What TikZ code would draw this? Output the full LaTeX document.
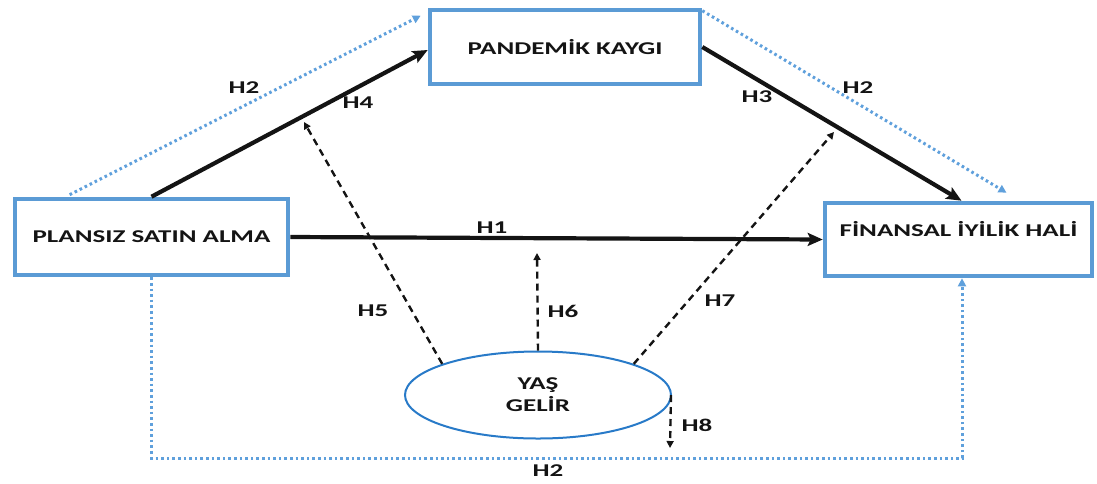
\documentclass[tikz,border=0pt]{standalone}
\usepackage{fontspec}
\usepackage{graphicx}
\setmainfont{Carlito}
\usetikzlibrary{arrows.meta,shapes.geometric}

\definecolor{boxblue}{RGB}{91,155,213}
\definecolor{dotblue}{RGB}{95,160,220}
\definecolor{ellblue}{RGB}{40,122,200}
\definecolor{ink}{RGB}{20,20,20}

% wide bold lettering used for every text
\newcommand{\wtxt}[1]{\scalebox{1.5}[1]{#1}}

\tikzset{
  every node/.style={text=ink, font=\fontsize{18}{23}\selectfont\bfseries},
  varbox/.style={draw=boxblue, line width=4.6pt, rectangle, inner sep=0pt},
  modell/.style={draw=ellblue, line width=2pt, ellipse, inner sep=0pt,
    minimum width=266pt, minimum height=87pt, align=center},
  hlabel/.style={inner sep=0pt},
  mainarrow/.style={draw=ink, line width=4.2pt,
    -{Stealth[length=15pt,width=13pt,inset=3pt]}},
  modarrow/.style={draw=ink, line width=2.4pt, dash pattern=on 7pt off 5pt,
    -{Triangle[length=7pt,width=7pt]}},
  indarrow/.style={draw=dotblue, line width=3pt, dash pattern=on 2.6pt off 3pt,
    -{Triangle[length=8pt,width=8pt]}},
}

\begin{document}
\begin{tikzpicture}[x=1pt,y=-1pt]
\useasboundingbox (0,0) rectangle (1097,483);

% variable boxes
\node[varbox, minimum width=273pt, minimum height=76pt] (psa) at (151.5,237)
  {\wtxt{PLANSIZ SATIN ALMA}};
\node[varbox, minimum width=270pt, minimum height=74pt] (pk) at (565,47)
  {\wtxt{PANDEMİK KAYGI}};
\node[varbox, minimum width=267pt, minimum height=73pt] (fih) at (958.5,239.5) {};
\node[hlabel] (fihtxt) at ([yshift=10pt]fih.center) {\wtxt{FİNANSAL İYİLİK HALİ}};

% moderators
\node[modell] (ell) at (538,395) {\wtxt{YAŞ}\\[-1pt]\wtxt{GELİR}};

% free ends of the moderating arrows and the corners of the lower path
\coordinate (h5end) at (304,122);
\coordinate (h6end) at (537,253);
\coordinate (h7end) at (834,132);
\coordinate (h8end) at (670,448);
\coordinate (bl) at (151.5,458);
\coordinate (br) at (962,458);

% indirect (H2) paths
\draw[indarrow] ([xshift=57pt,yshift=2pt]psa.north west) -- ([xshift=-7pt,yshift=-8pt]pk.north west);
\draw[indarrow] ([yshift=-3pt]pk.north east) -- ([xshift=48pt,yshift=8pt]fih.north);
\draw[indarrow] (psa.south) -- (bl) -- (br) -- (br |- fih.south);

% direct paths
\draw[mainarrow] (psa.north) -- ([yshift=-3pt]pk.west);
\draw[mainarrow] (pk.east) -- ([xshift=3pt]fih.north);
\draw[mainarrow] (psa.east) -- (fih.west);

% moderating paths
\draw[modarrow] (ell.162) -- (h5end);
\draw[modarrow] (ell.north) -- (h6end);
\draw[modarrow] (ell.18) -- (h7end);
\draw[modarrow] ([xshift=-1pt]ell.east) -- (h8end);

% hypothesis labels
\node[hlabel] (lh2a) at (244,88) {\wtxt{H2}};
\node[hlabel] (lh4) at (358,103) {\wtxt{H4}};
\node[hlabel] (lh3) at (757,97) {\wtxt{H3}};
\node[hlabel] (lh2b) at (858,88) {\wtxt{H2}};
\node[hlabel] (lh1) at (492,228) {\wtxt{H1}};
\node[hlabel] (lh5) at (373,311) {\wtxt{H5}};
\node[hlabel] (lh6) at (563,311) {\wtxt{H6}};
\node[hlabel] (lh7) at (720,301) {\wtxt{H7}};
\node[hlabel] (lh8) at (697,425) {\wtxt{H8}};
\node[hlabel] (lh2c) at (548,471) {\wtxt{H2}};
\end{tikzpicture}
\end{document}
